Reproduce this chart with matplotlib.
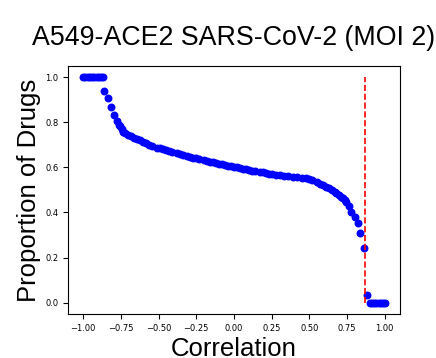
import matplotlib
matplotlib.use('Agg')
import matplotlib.pyplot as plt

# correlation threshold vs. proportion of drugs
correlation = [-1.0, -0.985, -0.97, -0.955, -0.94, -0.925, -0.91, -0.895, -0.88, -0.867,
               -0.859, -0.836, -0.817, -0.795, -0.777, -0.765, -0.755, -0.745, -0.733, -0.72,
               -0.70, -0.68, -0.66, -0.64, -0.623, -0.60, -0.58, -0.56, -0.54, -0.512,
               -0.49, -0.47, -0.45, -0.43, -0.41, -0.38, -0.36, -0.34, -0.31, -0.29,
               -0.27, -0.25, -0.23, -0.20, -0.18, -0.159, -0.14, -0.12, -0.10, -0.08,
               -0.06, -0.04, -0.02, 0.0, 0.02, 0.04, 0.06, 0.08, 0.10, 0.12,
               0.14, 0.17, 0.19, 0.21, 0.23, 0.25, 0.28, 0.305, 0.33, 0.36,
               0.39, 0.42, 0.45, 0.48, 0.50, 0.52, 0.55, 0.57, 0.59, 0.61,
               0.63, 0.65, 0.67, 0.68, 0.70, 0.712, 0.724, 0.735, 0.745, 0.762,
               0.779, 0.801, 0.821, 0.839, 0.861, 0.883,
               0.90, 0.915, 0.93, 0.945, 0.96, 0.975, 0.99, 1.0]
proportion = [1.0, 1.0, 1.0, 1.0, 1.0, 1.0, 1.0, 1.0, 1.0, 1.0,
              0.94, 0.909, 0.869, 0.832, 0.805, 0.79, 0.784, 0.77, 0.758, 0.752,
              0.745, 0.737, 0.731, 0.725, 0.721, 0.714, 0.706, 0.699, 0.694, 0.688,
              0.684, 0.680, 0.676, 0.672, 0.668, 0.662, 0.659, 0.655, 0.651, 0.647,
              0.643, 0.640, 0.637, 0.633, 0.629, 0.625, 0.622, 0.619, 0.617, 0.614,
              0.611, 0.608, 0.605, 0.603, 0.600, 0.597, 0.594, 0.592, 0.589, 0.586,
              0.584, 0.581, 0.578, 0.575, 0.572, 0.570, 0.568, 0.566, 0.563, 0.560,
              0.558, 0.556, 0.554, 0.552, 0.548, 0.543, 0.535, 0.528, 0.522, 0.515,
              0.508, 0.500, 0.491, 0.485, 0.477, 0.470, 0.463, 0.455, 0.445, 0.43,
              0.401, 0.379, 0.353, 0.308, 0.242, 0.032,
              0.0, 0.0, 0.0, 0.0, 0.0, 0.0, 0.0, 0.0]
cutoff = 0.866

label_font = ['Liberation Sans', 'DejaVu Sans']

fig = plt.figure(figsize=(4.36, 3.58), dpi=100)
ax = fig.add_axes([0.156, 0.123, 0.761, 0.693])

ax.scatter(correlation, proportion, color='blue', s=22, zorder=2)
ax.vlines(cutoff, 0, 1, colors='red', linestyles='--', linewidth=1.2, zorder=3)

ax.set_xlim(-1.1, 1.1)
ax.set_ylim(-0.05, 1.05)
ax.set_xticks([-1.0, -0.75, -0.5, -0.25, 0.0, 0.25, 0.5, 0.75, 1.0])
ax.set_yticks([0.0, 0.2, 0.4, 0.6, 0.8, 1.0])
ax.tick_params(labelsize=6)

ax.set_title('A549-ACE2 SARS-CoV-2 (MOI 2)', fontsize=19.3, pad=15, family=label_font)
ax.set_xlabel('Correlation', fontsize=18.5, labelpad=3, family=label_font)
ax.set_ylabel('Proportion of Drugs', fontsize=18.5, labelpad=3, family=label_font)

fig.savefig('out.png', dpi=100)
